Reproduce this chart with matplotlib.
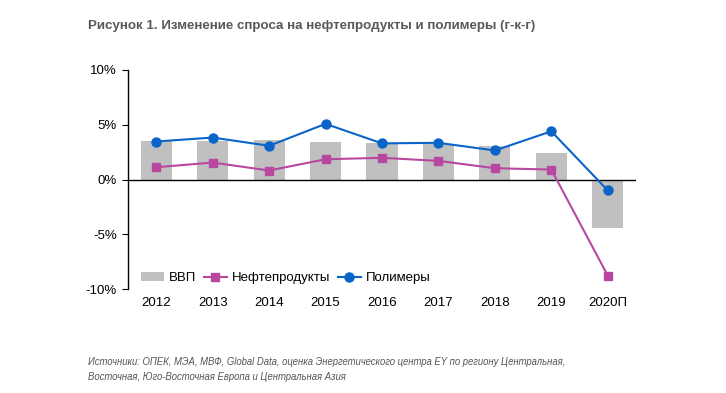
import matplotlib
matplotlib.use("Agg")
import matplotlib.pyplot as plt
import numpy as np
from matplotlib.ticker import FuncFormatter

plt.rcParams['font.family'] = ['Liberation Sans', 'DejaVu Sans']

years = ['2012', '2013', '2014', '2015', '2016', '2017', '2018', '2019', '2020П']
gdp = [3.5, 3.5, 3.6, 3.4, 3.35, 3.25, 3.1, 2.45, -4.4]
oil = [1.12, 1.55, 0.82, 1.85, 1.98, 1.7, 1.03, 0.91, -8.77]
poly = [3.47, 3.83, 3.08, 5.08, 3.3, 3.35, 2.65, 4.4, -1.0]

fig = plt.figure(figsize=(7.26, 3.93), dpi=100)
ax = fig.add_axes([0.1763, 0.2646, 0.6997, 0.5573])
x = np.arange(len(years))

hb = ax.bar(x, gdp, width=0.55, color='#c0c0c0', label='ВВП', zorder=1)
ax.axhline(0, color='black', lw=1.0, zorder=2)
ho, = ax.plot(x, oil, color='#b8479f', marker='s', ms=6, lw=1.5, label='Нефтепродукты', zorder=3)
hp, = ax.plot(x, poly, color='#0a64c8', marker='o', ms=6.5, lw=1.5, label='Полимеры', zorder=4)

ax.set_xlim(-0.5, len(years) - 0.5)
ax.set_ylim(-10, 10)
ax.set_yticks([-10, -5, 0, 5, 10])
ax.yaxis.set_major_formatter(FuncFormatter(lambda v, p: f"{int(v)}%"))
ax.set_xticks(x)
ax.set_xticklabels(years)
ax.tick_params(axis='x', length=0, pad=6, labelsize=9.5)
ax.tick_params(axis='y', length=4, direction='out', labelsize=9.5, pad=4)
for s in ['top', 'right', 'bottom']:
    ax.spines[s].set_visible(False)
ax.spines['left'].set_linewidth(1.0)

ax.legend([hb, ho, hp], ['ВВП', 'Нефтепродукты', 'Полимеры'],
          loc='lower left', bbox_to_anchor=(0.008, -0.018), ncol=3, frameon=False,
          fontsize=9.5, handlelength=1.75, columnspacing=0.55, handletextpad=0.4,
          borderaxespad=0.25)

fig.text(88/726, 1 - 26/393, 'Рисунок 1. Изменение спроса на нефтепродукты и полимеры (г-к-г)',
         fontsize=9.6, fontweight='bold', color='#595959', va='center', ha='left')
fig.text(88/726, 1 - 362/393,
         'Источники: ОПЕК, МЭА, МВФ, Global Data, оценка Энергетического центра EY по региону Центральная,',
         fontsize=6.85, style='italic', color='#555555', va='center', ha='left')
fig.text(88/726, 1 - 377/393,
         'Восточная, Юго-Восточная Европа и Центральная Азия',
         fontsize=6.85, style='italic', color='#555555', va='center', ha='left')

fig.savefig('out.png', dpi=100)
